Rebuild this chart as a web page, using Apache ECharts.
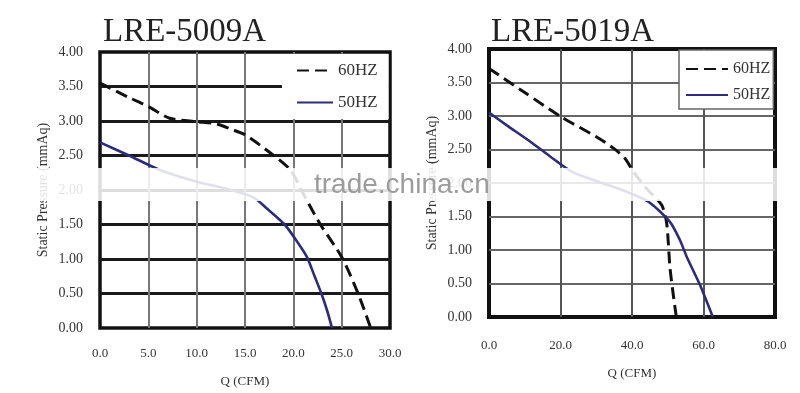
<!DOCTYPE html>
<html>
<head>
<meta charset="utf-8">
<script src="https://cdn.jsdelivr.net/npm/echarts@6/dist/echarts.min.js"></script>
<style>html,body{margin:0;padding:0;background:#fff;}#c{width:800px;height:393px;}</style>
</head>
<body>
<div id="c"></div>
<script>
// ---- data ----
const titleLeft = 'LRE-5009A';
const titleRight = 'LRE-5019A';
const seriesNames = ['60HZ', '50HZ'];
const xAxisName = 'Q (CFM)';
const yAxisName = 'Static Pressure (mmAq)';
const watermark = 'trade.china.cn';

// LRE-5009A  [Q (CFM), pressure (mmAq)]
const left60 = [[0,3.55],[3,3.34],[5,3.21],[7.2,3.04],[10,2.99],[12,2.96],[13.4,2.89],[15,2.80],[17.5,2.55],[19.7,2.29],[21.2,1.90],[22.8,1.50],[25,1.03],[26.7,0.50],[28,0]];
const left50 = [[0,2.69],[3,2.50],[6.2,2.29],[10,2.12],[13,2.02],[15.9,1.89],[17.2,1.74],[19.1,1.50],[20.4,1.25],[21.4,1.03],[22.2,0.75],[22.9,0.50],[23.5,0.25],[24,0]];
// LRE-5019A
const right60 = [[0,3.71],[10,3.35],[20.1,2.99],[30,2.69],[34.8,2.52],[38,2.37],[40.4,2.17],[44,1.92],[48.3,1.67],[49.7,1.40],[50.6,0.75],[51.5,0.35],[52.4,0]];
const right50 = [[0,3.05],[5,2.86],[11.5,2.62],[17,2.40],[23.1,2.17],[30,2.03],[38,1.88],[44.6,1.72],[50.6,1.42],[53.4,1.15],[55.3,0.90],[59,0.48],[62.6,0]];

const leftX = {min:0, max:30, interval:5};
const rightX = {min:0, max:80, interval:20};
const yRange = {min:0, max:4, interval:0.5};

// ---- styles ----
const SERIF = '"Liberation Serif", "DejaVu Serif", serif';
const BLACK = '#111';
const NAVY = '#2c2b7c';

function xAxisCfg(idx, r, lineW, lineC, gap, margin) {
  return {
    type:'value', gridIndex:idx, min:r.min, max:r.max, interval:r.interval,
    name:xAxisName, nameLocation:'middle', nameGap:gap,
    nameTextStyle:{fontFamily:SERIF, fontSize:13, color:'#333'},
    axisLine:{show:false}, axisTick:{show:false},
    axisLabel:{formatter:v=>v.toFixed(1), fontFamily:SERIF, fontSize:13, color:'#333', margin:margin},
    splitLine:{show:true, showMinLine:false, showMaxLine:false, lineStyle:{color:lineC, width:lineW}}
  };
}
function yAxisCfg(idx, lineW, lineC) {
  return {
    type:'value', gridIndex:idx, min:yRange.min, max:yRange.max, interval:yRange.interval,
    name:yAxisName, nameLocation:'middle', nameGap:50,
    nameTextStyle:{fontFamily:SERIF, fontSize:14, color:'#333'},
    axisLine:{show:false}, axisTick:{show:false},
    axisLabel:{formatter:v=>v.toFixed(2), fontFamily:SERIF, fontSize:14, color:'#333', margin:17},
    splitLine:{show:true, showMinLine:false, showMaxLine:false, lineStyle:{color:lineC, width:lineW}}
  };
}
function lineSeries(name, data, idx, dashed) {
  return {
    name:name, type:'line', xAxisIndex:idx, yAxisIndex:idx, data:data,
    smooth:0.25, symbol:'none', z:5,
    lineStyle: dashed ? {color:BLACK, width:3, type:[12,6]} : {color:NAVY, width:2.6, type:'solid'},
    itemStyle:{color: dashed ? BLACK : NAVY}
  };
}

const chart = echarts.init(document.getElementById('c'), null, {renderer:'canvas'});
chart.setOption({
  animation:false,
  backgroundColor:'#fff',
  title:[
    {text:titleLeft, left:98, top:11, textStyle:{fontFamily:SERIF, fontSize:33, fontWeight:'normal', color:'#222'}},
    {text:titleRight, left:486, top:11, textStyle:{fontFamily:SERIF, fontSize:33, fontWeight:'normal', color:'#222'}}
  ],
  grid:[
    {left:100, top:52, width:290, height:280, show:true, borderColor:BLACK, borderWidth:3.5, backgroundColor:'transparent'},
    {left:489, top:49, width:286, height:268, show:true, borderColor:BLACK, borderWidth:4, backgroundColor:'transparent'}
  ],
  xAxis:[ xAxisCfg(0, leftX, 2, '#777', 47, 19), xAxisCfg(1, rightX, 2, '#555', 50, 22) ],
  yAxis:[ yAxisCfg(0, 3, '#1a1a1a'), yAxisCfg(1, 2, '#666') ],
  legend:[
    {data:seriesNames, orient:'vertical', left:282, top:54, padding:[8,11,8,14], itemGap:15,
     itemWidth:36, itemHeight:14, backgroundColor:'#fff', selectedMode:false,
     itemStyle:{opacity:0},
     textStyle:{fontFamily:SERIF, fontSize:17, color:'#333'}},
    {data:seriesNames, orient:'vertical', left:679, top:50, padding:[11,3,6,6], itemGap:10,
     itemWidth:42, itemHeight:14, backgroundColor:'#fff', borderColor:'#666', borderWidth:1.5, selectedMode:false,
     itemStyle:{opacity:0},
     textStyle:{fontFamily:SERIF, fontSize:16, color:'#333'}}
  ],
  series:[
    lineSeries(seriesNames[0], left60, 0, true),
    lineSeries(seriesNames[1], left50, 0, false),
    lineSeries(seriesNames[0], right60, 1, true),
    lineSeries(seriesNames[1], right50, 1, false)
  ],
  graphic:[
    {type:'rect', shape:{x:30, y:168, width:770, height:33}, style:{fill:'rgba(255,255,255,0.86)'}, z:100},
    {type:'text', x:314, y:171, style:{text:watermark, font:'28px "Liberation Sans", Arial, sans-serif', fill:'#9c9c9c'}, z:101}
  ]
});
</script>
</body>
</html>
